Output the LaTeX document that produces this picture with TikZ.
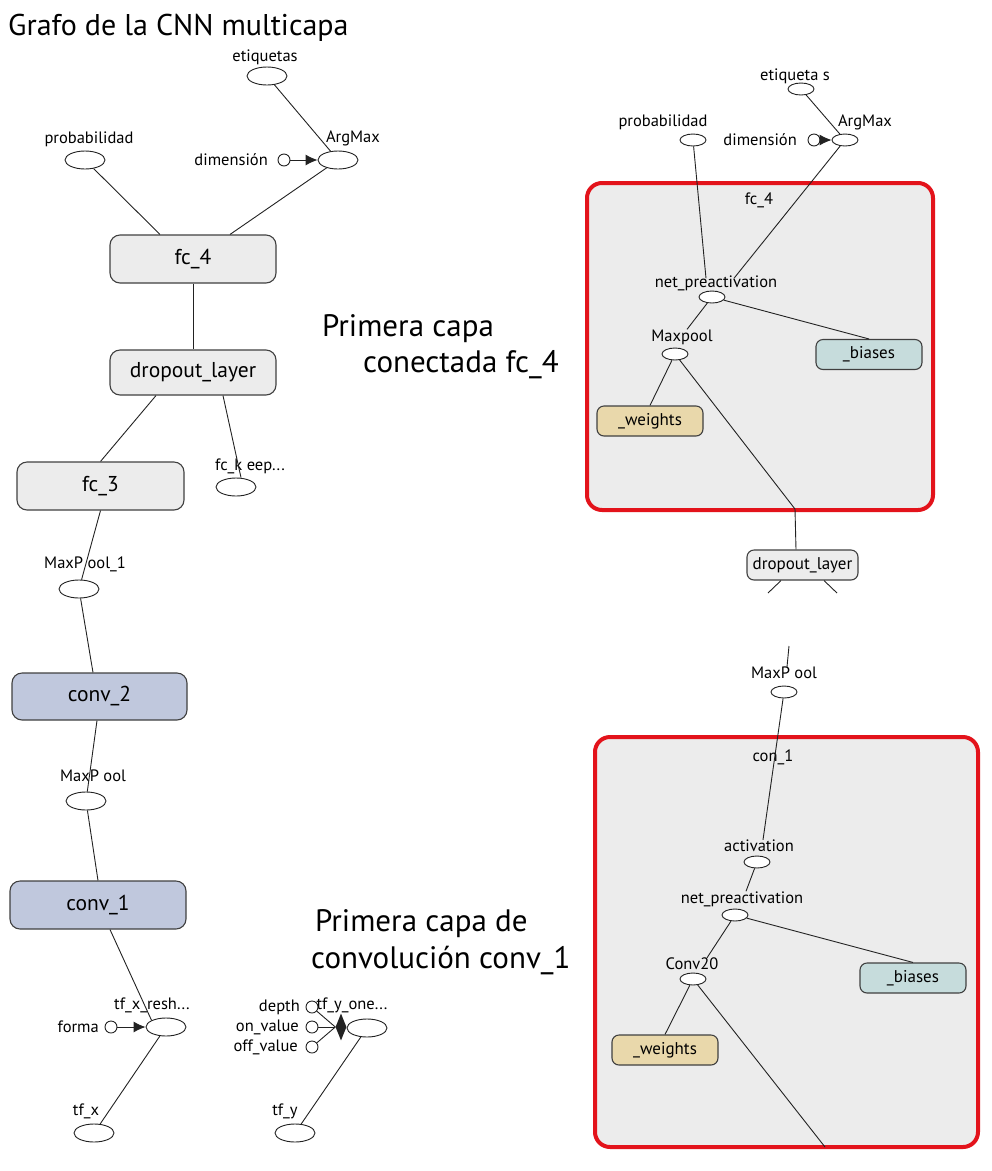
\documentclass[tikz,border=0pt]{standalone}
\usepackage{fontspec}
\setmainfont{PT Sans}
\usetikzlibrary{shapes.geometric,arrows.meta}
\definecolor{boxgray}{HTML}{ECECEC}
\definecolor{convblue}{HTML}{C0C8DD}
\definecolor{biasfill}{HTML}{C6DCDC}
\definecolor{weightfill}{HTML}{E9D8AB}
\definecolor{frame}{HTML}{E3131B}
\definecolor{edgeclr}{HTML}{222222}
\tikzset{
  op/.style={ellipse, draw=edgeclr, fill=white, line width=0.9pt, minimum width=40pt, minimum height=18pt, inner sep=0pt},
  ops/.style={ellipse, draw=edgeclr, fill=white, line width=0.9pt, minimum width=26pt, minimum height=12pt, inner sep=0pt},
  cst/.style={circle, draw=edgeclr, fill=white, line width=0.9pt, minimum size=12pt, inner sep=0pt},
  lbl/.style={font=\fontsize{16.5}{18}\selectfont, inner sep=0pt},
  big/.style={font=\fontsize{31}{36}\selectfont, inner sep=0pt, anchor=base west},
  grpbox/.style={rectangle, rounded corners=10pt, draw=black!75, line width=1.1pt, fill=boxgray, font=\fontsize{21.5}{24}\selectfont, inner sep=0pt},
  smallbox/.style={rectangle, rounded corners=7pt, draw=black!75, line width=1.1pt, font=\fontsize{17}{19}\selectfont, inner sep=0pt, minimum width=106pt, minimum height=30pt},
  redframe/.style={draw=frame, line width=4pt, rounded corners=15pt, fill=boxgray},
  conn/.style={draw=edgeclr, line width=0.9pt},
  arr/.style={draw=edgeclr, line width=0.9pt, -{Latex[length=12pt,width=11pt]}},
}
\begin{document}
\begin{tikzpicture}[x=1pt,y=-1pt]
\useasboundingbox (0,0) rectangle (992,1171);
% ---------- titles ----------
\node[big, font=\fontsize{30}{34}\selectfont] (title) at (8,35) {Grafo de la CNN multicapa};
\node[big] (t1a) at (322,336) {Primera capa};
\node[big] (t1b) at (363,372) {conectada fc\_4};
\node[big] (t2a) at (315,931) {Primera capa de};
\node[big] (t2b) at (311,968) {convolución conv\_1};
% ---------- left graph ----------
\node[lbl] (etqL) at (265,57) {etiquetas};
\node[op] (etqE) at (267,76) {};
\node[lbl] (probL) at (89,139) {probabilidad};
\node[op] (probE) at (85,160) {};
\node[lbl] (argL) at (353,138) {ArgMax};
\node[op] (argE) at (338,160) {};
\node[lbl, anchor=east] (dimL) at (268,160) {dimensión};
\node[cst] (dimC) at (284,160) {};
\draw[arr] (dimC) -- (argE);
\draw[conn] (etqE) -- (argE);

\node[grpbox, minimum width=166pt, minimum height=48pt] (fc4) at (193,259) {fc\_4};
\node[grpbox, minimum width=166pt, minimum height=45pt] (drop1) at (193,372.5) {dropout\_layer};
\node[grpbox, minimum width=167pt, minimum height=48pt] (fc3) at (100.5,486) {fc\_3};
\node[grpbox, fill=convblue, minimum width=175pt, minimum height=47pt] (conv2) at (99.5,696.5) {conv\_2};
\node[grpbox, fill=convblue, minimum width=176pt, minimum height=48pt] (conv1) at (98,905) {conv\_1};

\draw[conn] (probE) -- ([xshift=-33pt]fc4.north);
\draw[conn] (argE) -- ([xshift=37pt]fc4.north);
\draw[conn] (fc4) -- (drop1);

\node[lbl] (keepL) at (250,466) {fc\_k eep...};
\node[op] (keepE) at (236,487) {};
\draw[conn] ([xshift=-37pt]drop1.south) -- (fc3.north);
\draw[conn] ([xshift=30pt]drop1.south) -- ([xshift=5pt]keepE.north);

\node[lbl] (mp1L) at (85,564) {MaxP ool\_1};
\node[op] (mp1E) at (79,589) {};
\draw[conn] (fc3.south) -- (mp1E);
\draw[conn] (mp1E) -- ([xshift=-6.5pt]conv2.north);

\node[lbl] (mp2L) at (93,776) {MaxP ool};
\node[op] (mp2E) at (86,801) {};
\draw[conn] ([xshift=-2.5pt]conv2.south) -- (mp2E);
\draw[conn] (mp2E) -- (conv1.north);

\node[lbl] (reshL) at (152,1005) {tf\_x\_resh...};
\node[op] (reshE) at (166,1027) {};
\node[lbl, anchor=east] (formaL) at (99,1027) {forma};
\node[cst] (formaC) at (111,1027) {};
\draw[arr] (formaC) -- (reshE);
\draw[conn] ([xshift=12pt]conv1.south) -- (reshE.north west);

\node[lbl] (tfxL) at (86,1111) {tf\_x};
\node[op] (tfxE) at (94,1133) {};
\draw[conn] (tfxE) -- (reshE);

\node[lbl] (oneL) at (352,1005) {tf\_y\_one...};
\node[op] (oneE) at (367,1028) {};
\node[diamond, fill=edgeclr, minimum width=11pt, minimum height=27pt, inner sep=0pt] (dia) at (341,1027) {};
\node[cst] (depthC) at (312,1007) {};
\node[cst] (onC) at (312,1027) {};
\node[cst] (offC) at (312,1047) {};
\node[lbl, anchor=east] (depthL) at (300,1007) {depth};
\node[lbl, anchor=east] (onL) at (299,1027) {on\_value};
\node[lbl, anchor=east] (offL) at (298,1047) {off\_value};
\draw[conn] (depthC) -- (dia.west);
\draw[conn] (onC) -- (dia.west);
\draw[conn] (offC) -- (dia.west);

\node[lbl] (tfyL) at (285,1111) {tf\_y};
\node[op] (tfyE) at (295,1133) {};
\draw[conn] (tfyE) -- (oneE);

% ---------- right top: fc_4 detail ----------
\path[redframe] (587,183) rectangle (933,510);
\node[lbl] (fcL) at (759,200) {fc\_4};
\node[lbl] (etq2L) at (795,76) {etiqueta s};
\node[ops] (etq2E) at (801,89) {};
\node[lbl] (prob2L) at (663,122) {probabilidad};
\node[ops] (prob2E) at (693,140) {};
\node[lbl] (arg2L) at (865,122) {ArgMax};
\node[ops] (arg2E) at (845,140) {};
\node[lbl, anchor=east] (dim2L) at (797,140) {dimensión};
\node[cst] (dim2C) at (814,140) {};
\draw[arr] (dim2C) -- (arg2E);
\draw[conn] (etq2E) -- (arg2E);

\node[lbl] (net1L) at (716,283) {net\_preactivation};
\node[ops] (net1E) at (712,297) {};
\draw[conn] (prob2E) -- ([xshift=-10pt,yshift=-3pt]net1L.north);
\draw[conn] (arg2E) -- ([xshift=18pt,yshift=-3pt]net1L.north);

\node[lbl] (mpoolL) at (682,337) {Maxpool};
\node[ops] (mpoolE) at (675,354) {};
\node[smallbox, fill=biasfill] (bias1) at (869,354.5) {\_biases};
\node[smallbox, fill=weightfill] (w1) at (650,421) {\_weights};
\draw[conn] (net1E) -- ([xshift=5pt]mpoolL.north);
\draw[conn] (net1E) -- (bias1.north);
\draw[conn] (mpoolE) -- (w1.north);

\node[smallbox, fill=boxgray, minimum width=111pt] (drop2) at (802.5,565) {dropout\_layer};
\coordinate (bend1) at (795,509);
\draw[conn] (mpoolE) -- (bend1) -- ([xshift=-6.5pt]drop2.north);
\coordinate (stubA) at (768,593);
\coordinate (stubB) at (837,593);
\draw[conn] ([xshift=-21.5pt]drop2.south) -- (stubA);
\draw[conn] ([xshift=21.5pt]drop2.south) -- (stubB);

% ---------- right bottom: conv_1 detail ----------
\path[redframe] (595,737) rectangle (978,1147);
\coordinate (stubC) at (789,646);
\node[lbl] (mp3L) at (784,673) {MaxP ool};
\node[ops] (mp3E) at (784,692) {};
\draw[conn] (stubC) -- ([xshift=3pt]mp3L.north);
\node[lbl] (conL) at (773,757) {con\_1};
\node[lbl] (actL) at (759,846) {activation};
\node[ops] (actE) at (757,862) {};
\draw[conn] (mp3E) -- ([xshift=4pt]actL.north);

\node[lbl] (net2L) at (742,899) {net\_preactivation};
\node[ops] (net2E) at (735,915) {};
\draw[conn] (actE) -- ([xshift=4pt]net2L.north);

\node[lbl] (c20L) at (692,964) {Conv20};
\node[ops] (c20E) at (693,979) {};
\node[smallbox, fill=biasfill] (bias2) at (913,978) {\_biases};
\node[smallbox, fill=weightfill] (w2) at (665,1050) {\_weights};
\draw[conn] (net2E) -- ([xshift=15pt]c20L.north);
\draw[conn] (net2E) -- (bias2.north);
\draw[conn] (c20E) -- (w2.north);
\coordinate (exit2) at (825,1147);
\draw[conn] (c20E) -- (exit2);
\end{tikzpicture}
\end{document}
